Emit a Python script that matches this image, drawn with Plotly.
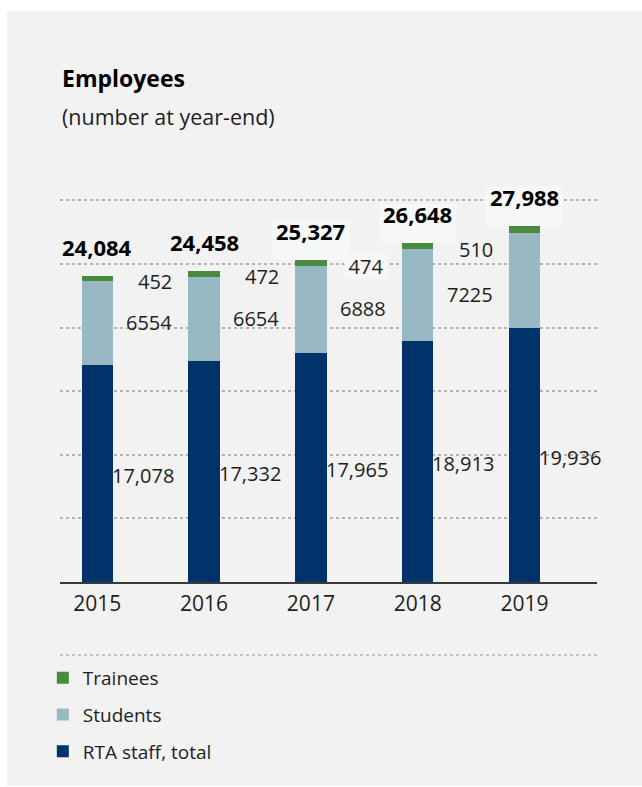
import plotly.graph_objects as go

# ---- data ----
years = ["2015", "2016", "2017", "2018", "2019"]
staff = [17078, 17332, 17965, 18913, 19936]
students = [6554, 6654, 6888, 7225, 7517]
trainees = [452, 472, 474, 510, 535]
totals = [24084, 24458, 25327, 26648, 27988]

# ---- style ----
NAVY = "#00336a"
LIGHTBLUE = "#98b9c4"
GREEN = "#4a8a3c"
PANEL = "#f2f2f2"
BOX = "#f6f7f7"
FONT = "Open Sans"
TXT = "#1e1e1e"

W, H = 642, 787
L, R, T, B = 60, 45, 180, 205
PW, PH = W - L - R, H - T - B
BAR_W = 0.293
X_RANGE = [-0.349, 4.679]
Y_RANGE = [0, 31596]


def px_x(p):
    return (p - L) / PW


def px_y(p):
    return (H - B - p) / PH


pos = list(range(len(years)))

fig = go.Figure()
for name, vals, color, rank in [("RTA staff, total", staff, NAVY, 3),
                                ("Students", students, LIGHTBLUE, 2),
                                ("Trainees", trainees, GREEN, 1)]:
    fig.add_bar(x=pos, y=vals, name=name, marker_color=color,
                marker_line_width=0, width=BAR_W, legendgroup=name,
                legendrank=rank, hoverinfo="skip")

ann = []
boxed_totals = {2, 3, 4}
boxed_trainees = {2}
for i in pos:
    s, st, tr = staff[i], students[i], trainees[i]
    ann.append(dict(x=i + BAR_W / 2, y=s / 2, text=f"{s:,}", xanchor="left",
                    yanchor="middle", showarrow=False, xshift=-3, yshift=-2,
                    font=dict(family=FONT, size=20, color=TXT)))
    ann.append(dict(x=i + 0.72, y=s + st / 2, text=f"{st}", xanchor="right",
                    yanchor="middle", showarrow=False, yshift=1,
                    font=dict(family=FONT, size=20, color=TXT)))
    a = dict(x=i + 0.72, y=s + st + tr / 2, text=f"{tr}", xanchor="right",
             yanchor="middle", showarrow=False, yshift=-3,
             font=dict(family=FONT, size=20, color=TXT))
    if i in boxed_trainees:
        a.update(bgcolor=BOX, width=40, height=22, borderpad=1)
    ann.append(a)
    if i in boxed_totals:
        ann.append(dict(x=i, y=totals[i], text=" ", xanchor="center",
                        yanchor="bottom", showarrow=False, width=76,
                        height=38, borderpad=0, bgcolor=BOX,
                        font=dict(family=FONT, size=10)))
    ann.append(dict(x=i, y=totals[i], text=f"<b>{totals[i]:,}</b>",
                    xanchor="center", yanchor="middle", showarrow=False,
                    yshift=29, font=dict(family=FONT, size=22, color="#000000")))

ann.append(dict(xref="paper", yref="paper", x=px_x(60), y=px_y(78),
                text="<b>Employees</b>", xanchor="left", yanchor="middle",
                showarrow=False, font=dict(family=FONT, size=23, color="#000")))
ann.append(dict(xref="paper", yref="paper", x=px_x(60), y=px_y(116),
                text="(number at year-end)", xanchor="left", yanchor="middle",
                showarrow=False, font=dict(family=FONT, size=21.5, color=TXT)))

shapes = [
    dict(type="rect", xref="paper", yref="paper", layer="below",
         x0=px_x(7), x1=px_x(660), y0=px_y(786), y1=px_y(11),
         fillcolor=PANEL, line=dict(width=0)),
    dict(type="line", xref="paper", yref="paper",
         x0=px_x(60), x1=px_x(598), y0=px_y(655), y1=px_y(655),
         line=dict(color="#b0b0b0", width=1.5, dash="dot")),
]

fig.update_layout(
    width=W, height=H, barmode="stack",
    margin=dict(l=L, r=R, t=T, b=B, pad=0),
    paper_bgcolor="#ffffff", plot_bgcolor="rgba(0,0,0,0)",
    font=dict(family=FONT, size=20, color=TXT),
    annotations=ann, shapes=shapes,
    showlegend=True,
    legend=dict(x=-0.032, xanchor="left", y=px_y(659), yanchor="top",
                traceorder="grouped", tracegroupgap=9,
                font=dict(family=FONT, size=19, color=TXT),
                bgcolor="rgba(0,0,0,0)", borderwidth=0),
    xaxis=dict(range=X_RANGE, tickvals=pos, ticktext=years, showgrid=False,
               zeroline=False, showline=True, linecolor="#3a3a3a",
               linewidth=1.5, ticks="", fixedrange=True, ticklabelstandoff=2,
               tickfont=dict(family=FONT, size=21, color=TXT)),
    yaxis=dict(range=Y_RANGE, dtick=5000, tick0=0, showticklabels=False,
               showgrid=True, gridcolor="#b3b3b3", gridwidth=1.5,
               griddash="dot", zeroline=False, ticks="", fixedrange=True),
)

fig.write_html("out.html", config={"displayModeBar": False},
               post_script="document.body.style.margin='0';document.body.style.overflow='hidden';")
